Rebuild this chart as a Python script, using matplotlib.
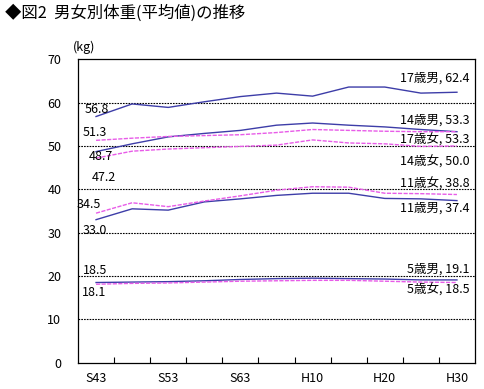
import matplotlib
matplotlib.use("Agg")
import matplotlib.pyplot as plt
import numpy as np

plt.rcParams['font.family'] = ['Noto Sans CJK JP', 'DejaVu Sans']

# years (every 5 years), only every other one is labelled
years = ["S43", "S48", "S53", "S58", "S63", "H5", "H10", "H15", "H20", "H25", "H30"]
shown_years = ["S43", "S53", "S63", "H10", "H20", "H30"]

m17 = [56.8, 59.7, 58.9, 60.2, 61.4, 62.2, 61.5, 63.6, 63.6, 62.2, 62.4]
m14 = [48.7, 50.5, 52.1, 52.9, 53.6, 54.8, 55.3, 54.8, 54.4, 53.8, 53.3]
f17 = [51.3, 51.8, 52.2, 52.4, 52.6, 53.1, 53.8, 53.6, 53.4, 53.3, 53.3]
f14 = [47.2, 48.8, 49.3, 49.6, 49.9, 50.2, 51.4, 50.7, 50.5, 49.9, 50.0]
f11 = [34.5, 36.9, 36.0, 37.3, 38.5, 39.8, 40.6, 40.5, 39.1, 39.0, 38.8]
m11 = [33.0, 35.5, 35.2, 37.1, 37.8, 38.6, 39.1, 39.1, 37.9, 37.8, 37.4]
m5 = [18.5, 18.6, 18.7, 18.9, 19.2, 19.4, 19.5, 19.4, 19.3, 19.1, 19.1]
f5 = [18.1, 18.3, 18.4, 18.6, 18.8, 18.9, 19.0, 19.0, 18.8, 18.6, 18.5]

blue = '#3d3da8'
pink = '#e85ce8'

fig = plt.figure(figsize=(4.84, 3.89), dpi=100)
ax = fig.add_axes([78 / 484, 26.3 / 389, 397 / 484, 303.4 / 389])

x = np.arange(len(years)) + 0.5
for vals in [m17, m14, m11, m5]:
    ax.plot(x, vals, color=blue, lw=1.0)
for vals in [f17, f14, f11, f5]:
    ax.plot(x, vals, color=pink, lw=1.0, ls=(0, (3, 1)))

ax.set_xlim(0, len(years))
ax.set_ylim(0, 70)
ax.set_yticks(range(0, 71, 10))
ax.tick_params(axis='y', length=0, pad=12, labelsize=9)
for v in range(10, 70, 10):
    ax.axhline(v, color='black', lw=0.8, ls=(0, (1.5, 1)), zorder=0)

# tick marks at boundaries, labels at centres
ax.set_xticks(np.arange(1, len(years)))
ax.set_xticklabels([])
ax.tick_params(axis='x', which='major', direction='in', length=4, width=0.8)
ax.set_xticks([x[years.index(y)] for y in shown_years], minor=True)
ax.set_xticklabels(shown_years, minor=True)
ax.tick_params(axis='x', which='minor', length=0, pad=7, labelsize=9)
for s in ax.spines.values():
    s.set_linewidth(0.9)

# start values on the left
left_labels = [m17, f17, m14, f14, f11, m11, m5, f5]
left_pos = [(0.18, 58.5), (0.12, 53.2), (0.3, 47.5), (0.38, 42.7),
            (-0.05, 36.5), (0.12, 30.5), (0.14, 21.2), (0.12, 16.2)]
for vals, (px, py) in zip(left_labels, left_pos):
    ax.text(px, py, f"{vals[0]:.1f}", fontsize=9, ha='left', va='center')

# end labels on the right
right_labels = [("17歳男", m17, 65.6), ("14歳男", m14, 56.0), ("17歳女", f17, 51.3),
                ("14歳女", f14, 46.3), ("11歳女", f11, 41.2), ("11歳男", m11, 35.6),
                ("5歳男", m5, 21.7), ("5歳女", f5, 16.8)]
for name, vals, py in right_labels:
    ax.text(10.85, py, f"{name}, {vals[-1]:.1f}", fontsize=9, ha='right', va='center')

fig.text(78 / 484 - 0.01, 1 - 47 / 389, "(kg)", fontsize=9, ha='left', va='center')
fig.text(5 / 484, 1 - 13 / 389, "◆図2  男女別体重(平均値)の推移", fontsize=11.8,
         ha='left', va='center')

fig.savefig("out.png", dpi=100)
